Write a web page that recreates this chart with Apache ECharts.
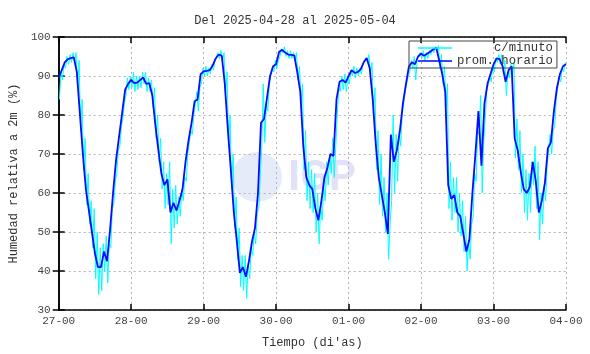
<!DOCTYPE html>
<html>
<head>
<meta charset="utf-8">
<script src="https://cdn.jsdelivr.net/npm/echarts@6/dist/echarts.min.js"></script>
<style>
  html, body { margin: 0; padding: 0; background: #fff; }
  #main { width: 590px; height: 354px; }
</style>
</head>
<body>
<div id="main"></div>
<script>
// etiquetas del eje x (una por dia, cada 24 h)
const tickLabels = ['27-00', '28-00', '29-00', '30-00', '01-00', '02-00', '03-00', '04-00'];

// promedio horario (%), 169 valores: hora 0 .. 168
const hourly = [
  89.6, 91.5, 93.5, 94.3, 94.6, 94.8, 91, 80.5, 70, 61, 55.5, 50, 44.5, 41, 41, 45, 42.5, 50.5, 60, 68.5, 74.5, 80.5, 86.5, 88,
  89, 88.2, 88.3, 89, 89.6, 88, 88.2, 85, 77.5, 71, 65, 62, 63.5, 55, 57.5, 55.5, 58, 61, 68, 73.5, 78, 83.5, 84, 90.5,
  91.2, 91.3, 91.5, 92.7, 94.5, 95.5, 95.2, 88, 76.5, 66, 55, 47.5, 39.5, 41, 38.5, 42.5, 47.5, 51, 60, 78, 79, 84.5, 90, 92.5,
  93, 96.2, 96.7, 96, 95.5, 95.4, 95.3, 91, 86, 72, 64, 62, 61, 56, 53, 58, 64, 66.5, 70, 69.5, 84, 88.5, 89, 88.3,
  90, 91.5, 90.8, 91, 91.7, 93.5, 94.6, 92, 84, 72.5, 64, 59.5, 55, 49.5, 75, 68, 71, 76, 83, 88, 92.5, 93.5, 93, 95,
  95.7, 95.2, 95.7, 96.2, 96.8, 97.3, 94, 90.5, 86, 62, 58.5, 59.5, 55, 54, 49.5, 45, 48, 60, 70, 81, 67, 83, 88, 90.5,
  93, 94.5, 94.3, 92.5, 88.5, 91.5, 92.5, 74, 71, 65.5, 61, 60, 61.5, 68, 63, 55, 58, 62.5, 71.5, 73, 81, 87, 90.5, 92.5, 93
];

const minuteLow = [
  84, 89, 92, 93, 93.5, 93.5, 87, 76, 66, 57, 52, 46, 38, 34, 35, 40, 37, 46, 57, 65, 72, 79, 85, 86.5,
  87, 86, 86.5, 87, 88, 86, 86, 82, 74, 68, 61, 56, 57, 47, 51, 52, 54, 58, 63, 70, 75, 80, 81, 88,
  90, 90, 90.5, 91.5, 93.5, 94.5, 93.5, 85, 72, 61, 51, 43, 36, 35, 33, 38, 44, 47, 56, 72, 73, 81, 88, 91,
  92, 95, 96, 95, 94.5, 94.5, 94, 89, 83, 66, 58, 56, 55, 50, 47, 53, 58, 62, 65, 64, 80, 86, 86.5, 86,
  88, 90, 89.5, 90, 90.5, 92.5, 93.5, 90, 80, 66, 57, 54, 50, 43, 58, 60, 63, 72, 80, 86, 91, 92, 89, 94,
  94.5, 94, 94.5, 95.5, 96, 96.5, 92, 88, 82, 56, 53, 55, 50, 49, 45, 40, 43, 54, 63, 75, 60, 79, 86, 88.5,
  91, 93.5, 93, 90.5, 85, 89.5, 90.5, 69, 66, 60, 55, 53, 55, 62, 56, 48, 52, 58, 67, 70, 77, 84, 88.5, 91
];
const minuteHigh = [
  91, 93, 95, 95.5, 96, 96, 94, 84, 74, 65, 58, 56, 50, 46, 47, 49, 47, 56, 63, 71, 77, 83, 89.5, 90,
  91, 90, 90, 91, 91, 89.5, 89, 87, 80, 74, 68, 65, 68, 61, 62, 59, 61, 64, 70, 76, 80, 86, 87, 92,
  92.5, 92, 93, 94, 96, 96.5, 96, 91, 80, 70, 59, 51, 44, 44, 42, 46, 50, 55, 64, 88, 83, 88, 92, 94,
  94, 97, 97.5, 96.5, 96.5, 96, 96, 92.5, 88, 76, 68, 66, 65, 60, 57, 62, 68, 70, 74, 72, 87, 90, 90.5, 90,
  91.5, 92.5, 92, 92, 93, 94.5, 95.5, 93.5, 87, 76, 70, 64, 60, 52, 80, 75, 76, 80, 86, 90, 94, 95, 94.5, 96,
  96.5, 96, 96.5, 97, 97.5, 97.8, 95.5, 92.5, 88, 68, 64, 64, 60, 58, 54, 48, 52, 65, 76, 85, 73, 86, 90, 92.5,
  94.5, 95.5, 95.5, 94, 91, 93, 93.5, 79, 76, 70, 66, 65, 68, 72, 68, 60, 62, 67, 75, 76, 84, 90, 92, 93.5
];

const MONO = 'Liberation Mono';

const hourlyData = hourly.map((v, i) => [i, v]);
const minuteData = [];
minuteLow.forEach((lo, i) => {
  minuteData.push([i + 0.25, lo]);
  minuteData.push([i + 0.75, minuteHigh[i]]);
});

const chart = echarts.init(document.getElementById('main'));

const frameAxis = {
  axisLine: { show: true, lineStyle: { color: '#000', width: 1.5 } },
  axisTick: { show: true, inside: true, length: 6, lineStyle: { color: '#000', width: 1.5 } },
  axisLabel: { show: false },
  splitLine: { show: false }
};

// texto de la leyenda alineado a la derecha (fuente monoespaciada)
const legendNames = ['c/minuto', 'prom. horario'];
const legendWidth = Math.max(...legendNames.map(s => s.length));

chart.setOption({
  animation: false,
  backgroundColor: '#fff',
  title: {
    text: 'Del 2025-04-28 al 2025-05-04',
    left: 'center',
    top: 10,
    textStyle: { fontFamily: MONO, fontSize: 12, fontWeight: 'normal', color: '#333' }
  },
  legend: {
    orient: 'vertical',
    left: 409,
    top: 41,
    padding: [1, 4, 1, 9],
    itemGap: 1,
    itemWidth: 34,
    itemHeight: 12,
    borderColor: '#444',
    borderWidth: 1,
    icon: 'path://M0,5 L34,5 L34,6.4 L0,6.4 Z',
    formatter: name => ' '.repeat(legendWidth - name.length) + name,
    textStyle: { fontFamily: MONO, fontSize: 12.3, color: '#333' },
    data: legendNames
  },
  graphic: [
    { type: 'circle', shape: { cx: 257, cy: 177, r: 25 }, style: { fill: 'rgba(205,215,245,0.5)' }, z: -1 },
    { type: 'text', left: 288, top: 158, style: { text: 'IGP', font: 'bold 42px Roboto', fill: 'rgba(200,200,240,0.55)' }, z: -1 }
  ],
  grid: { left: 54, right: 24, top: 37, bottom: 40 },
  xAxis: [
    {
      type: 'value',
      min: 0,
      max: 168,
      interval: 24,
      name: "Tiempo (di'as)",
      nameLocation: 'middle',
      nameGap: 27,
      nameTextStyle: { fontFamily: MONO, fontSize: 12, color: '#333' },
      axisLine: { show: true, lineStyle: { color: '#000', width: 1.5 } },
      axisTick: { show: true, inside: true, length: 6, lineStyle: { color: '#000', width: 1.5 } },
      axisLabel: {
        fontFamily: MONO, fontSize: 11, color: '#444', margin: 6,
        formatter: v => tickLabels[Math.round(v / 24)]
      },
      splitLine: { show: true, lineStyle: { type: [2, 3], color: '#b4b4b4', width: 1 } }
    },
    Object.assign({ type: 'value', position: 'top', min: 0, max: 168, interval: 24 }, frameAxis)
  ],
  yAxis: [
    {
      type: 'value',
      min: 30,
      max: 100,
      interval: 10,
      name: 'Humedad relativa a 2m (%)',
      nameLocation: 'middle',
      nameGap: 37,
      nameTextStyle: { fontFamily: MONO, fontSize: 12, color: '#333' },
      axisLine: { show: true, lineStyle: { color: '#000', width: 1.5 } },
      axisTick: { show: true, inside: true, length: 6, lineStyle: { color: '#000', width: 1.5 } },
      axisLabel: { fontFamily: MONO, fontSize: 11, color: '#444', margin: 8 },
      splitLine: { show: true, lineStyle: { type: [2, 3], color: '#b4b4b4', width: 1 } }
    },
    Object.assign({ type: 'value', position: 'right', min: 30, max: 100, interval: 10 }, frameAxis)
  ],
  series: [
    {
      name: 'c/minuto',
      type: 'line',
      data: minuteData,
      showSymbol: false,
      itemStyle: { color: '#00ffff' },
      lineStyle: { color: '#00ffff', width: 1 },
      z: 2
    },
    {
      name: 'prom. horario',
      type: 'line',
      data: hourlyData,
      showSymbol: false,
      itemStyle: { color: '#0000ff' },
      lineStyle: { color: '#0a0aff', width: 1.8 },
      z: 3
    }
  ]
});
</script>
</body>
</html>
